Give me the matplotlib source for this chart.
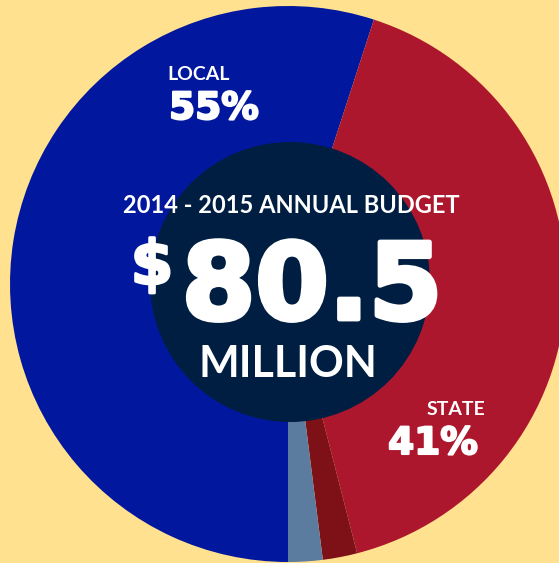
"""Donut-style budget pie: 2014 - 2015 annual budget by source."""
import matplotlib.pyplot as plt
import matplotlib.patheffects as pe
from matplotlib.patches import Circle

# data
sources = ["LOCAL", "STATE", "OTHER", "FEDERAL"]
shares = [55, 41, 2, 2]
colors = ["#01189E", "#AD172D", "#7E1118", "#5B7C9E"]
title = "2014 - 2015 ANNUAL BUDGET"
total = "80.5"
unit = "MILLION"

BG = "#FFE190"
NAVY = "#001E42"
W, H = 559, 563

fig = plt.figure(figsize=(W / 100, H / 100), dpi=100, facecolor=BG)
ax = fig.add_axes([0, 0, 1, 1])
ax.set_facecolor(BG)

cx, cy, R = 288, H - 284, 278
ax.pie(shares, colors=colors, startangle=270, counterclock=False,
       radius=R, center=(cx, cy), wedgeprops={"linewidth": 0})
ax.add_patch(Circle((cx + 2, cy + 2), 140, color=NAVY, lw=0, zorder=5))

ax.set_xlim(0, W)
ax.set_ylim(0, H)
ax.set_aspect("equal")
ax.axis("off")

lbl = dict(color="white", ha="center", va="baseline", family="Lato", zorder=10)
num = dict(color="white", ha="center", va="baseline", family="DejaVu Sans",
           fontweight="bold", zorder=10)


def heavy(w):
    # fake a black weight by stroking the glyphs
    return [pe.Stroke(linewidth=w, foreground="white"), pe.Normal()]


# slice labels
ax.text(199, H - 80, sources[0], fontsize=14, fontweight="bold", **lbl)
ax.text(214, H - 119, f"{shares[0]}%", fontsize=27, path_effects=heavy(1.5), **num)
ax.text(456, H - 415, sources[1], fontsize=14, fontweight="bold", **lbl)
ax.text(433, H - 454, f"{shares[1]}%", fontsize=27, path_effects=heavy(1.5), **num)

# centre text
ax.text(291, H - 213, title, fontsize=17, fontweight="bold", **lbl)
ax.text(312, H - 319, total, fontsize=76, path_effects=heavy(3.5), **num)
ax.text(152, H - 284, "$", fontsize=44, path_effects=heavy(2), **num)
ax.text(288, H - 377, unit, fontsize=31, fontweight="bold", **lbl)

fig.savefig("out.png", dpi=100, facecolor=BG)
